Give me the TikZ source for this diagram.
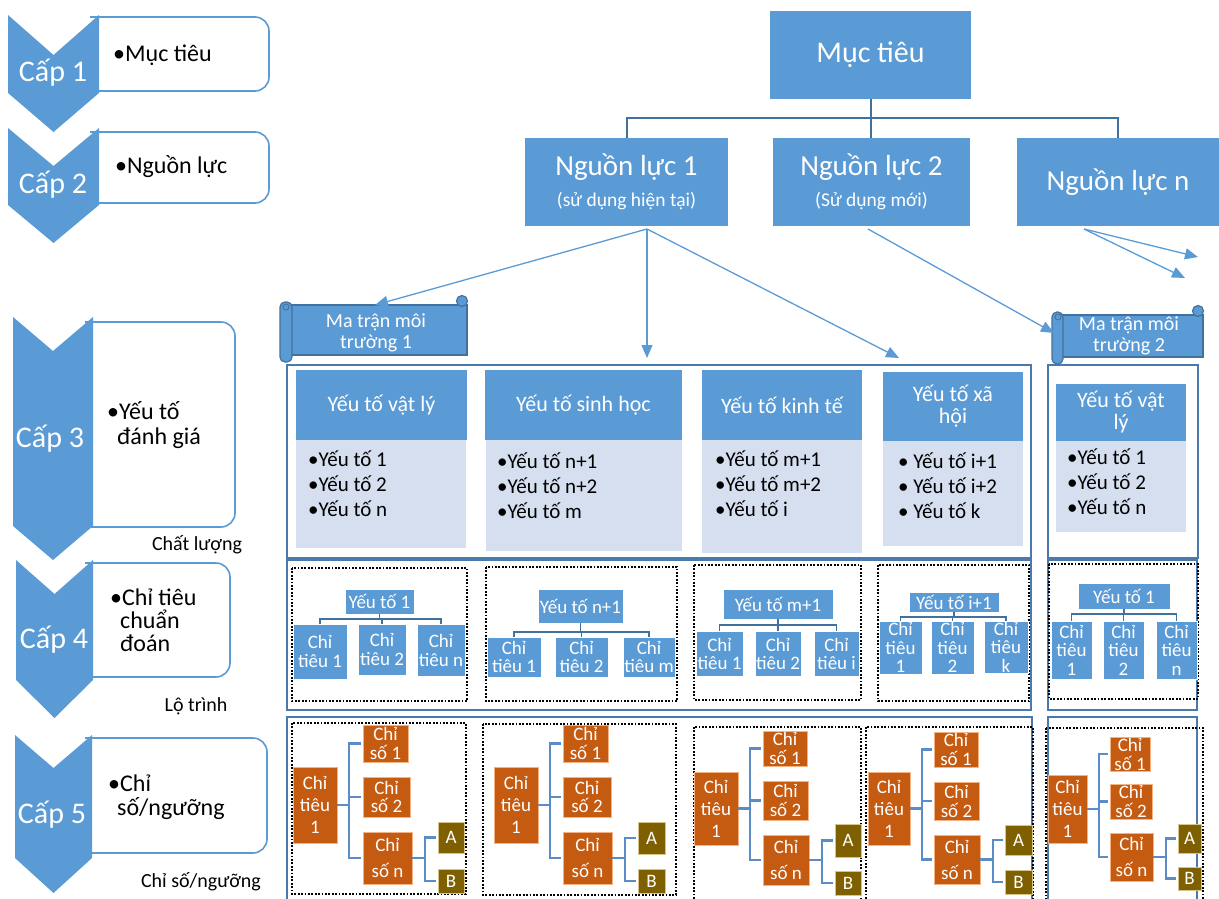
\documentclass[tikz,border=0pt]{standalone}
\usepackage{fontspec}
\setmainfont{Carlito}
\usetikzlibrary{arrows.meta}
\definecolor{cBlue}{HTML}{5B9BD5}
\definecolor{cDark}{HTML}{41719C}
\definecolor{cFrame}{HTML}{4A79AB}
\definecolor{cBody}{HTML}{D5DFEF}
\definecolor{cOrange}{HTML}{C55A11}
\definecolor{cOrangeL}{HTML}{F4B183}
\definecolor{cOlive}{HTML}{7F6000}
\definecolor{cOliveL}{HTML}{D6C48A}
\definecolor{cLink}{HTML}{5A8CC8}
\newcommand\fsz[2]{\fontsize{#1}{#2}\selectfont}
% box node given by its corners (x1,y1)-(x2,y2)
\newcommand\bbox[6]{\node[#2,minimum width={(#5)-(#3)},minimum height={(#6)-(#4)}] (#1) at ({((#3)+(#5))/2},{((#4)+(#6))/2}) {};}
% same box with a centred text node on top
\newcommand\rbox[7]{\bbox{#1}{#2}{#3}{#4}{#5}{#6}\node[#2,fill=none,draw=none] (#1t) at (#1.center) {#7};}
% bulleted list, one node per line
\newcommand\items[4]{\foreach \s [count=\i] in {#4}{\node[item] (#1\i) at (#2,{#3+25*(\i-1)}) {\s};}}
\begin{document}
\begin{tikzpicture}[x=1pt,y=-1pt,
  lvbox/.style={draw=cBlue,line width=1.6pt,fill=white,rounded corners=14pt},
  chev/.style={fill=cBlue},
  tag/.style={text=white,inner sep=0pt,font=\fsz{30}{32}},
  lvtxt/.style={anchor=base west,inner sep=0pt,font=\fsz{24}{25}},
  note/.style={inner sep=0pt,font=\fsz{20}{22}},
  blk/.style={fill=cBlue,text=white,inner sep=0pt,outer sep=0pt,align=center},
  goal/.style={blk,font=\fsz{30}{32}},
  res/.style={blk,font=\fsz{29}{30}},
  resT/.style={text=white,inner sep=0pt,font=\fsz{29}{30}},
  subT/.style={text=white,inner sep=0pt,font=\fsz{19.5}{21}},
  tree/.style={draw=cDark,line width=2pt},
  link/.style={draw=cBlue,line width=1.3pt,-{Triangle[length=13pt,width=11pt]}},
  scroll/.style={fill=cBlue,draw=cDark,line width=1.2pt,inner sep=0pt,outer sep=0pt},
  scrollT/.style={text=white,inner sep=0pt,align=center,font=\fsz{20}{21}},
  frame/.style={draw=cFrame,line width=2pt},
  dots/.style={draw=black,line width=1.8pt,dash pattern=on 1.8pt off 1.6pt},
  hdr3/.style={blk,font=\fsz{22}{22}},
  body3/.style={fill=cBody,inner sep=0pt,outer sep=0pt},
  item/.style={anchor=base west,inner sep=0pt,font=\fsz{21}{22}},
  hdr4/.style={blk,draw=white,line width=0.7pt,font=\fsz{19}{19}},
  kid4/.style={blk,draw=white,line width=0.7pt,font=\fsz{19}{#1}},
  kid4/.default=19,
  brk/.style={draw=cDark,line width=1.5pt},
  kid5/.style={fill=cOrange,draw=cOrangeL,line width=0.7pt,text=white,inner sep=0pt,outer sep=0pt,align=center,font=\fsz{19}{#1}},
  kid5/.default=20,
  leaf5/.style={fill=cOlive,draw=cOliveL,line width=0.7pt,text=white,inner sep=0pt,outer sep=0pt,font=\fsz{19}{20}},
  br5/.style={draw=cLink,line width=2.4pt,shorten >=2pt},
]
\useasboundingbox (0,0) rectangle (1219,899);
\clip (0,0) rectangle (1219,899);

% ---------------- level column ----------------
\draw[lvbox] (90,17) -- (269,17) -- (269,91) -- (90,91);
\fill[chev] (8,15) -- (53.5,55) -- (99,15) -- (99,93) -- (53.5,132) -- (8,93) -- cycle;
\node[tag] (k1) at (53,73) {Cấp 1};
\node[lvtxt] (k1a) at (113,62) {•Mục tiêu};

\draw[lvbox] (90,132) -- (269,132) -- (269,203) -- (90,203);
\fill[chev] (8,128) -- (53.5,166) -- (99,128) -- (99,205) -- (53.5,243) -- (8,205) -- cycle;
\node[tag] (k2) at (53,185) {Cấp 2};
\node[lvtxt] (k2a) at (115,173) {•Nguồn lực};

\draw[lvbox] (85,322) -- (235,322) -- (235,527) -- (85,527);
\fill[chev] (13,317) -- (53,351) -- (93,317) -- (93,526) -- (53,560) -- (13,526) -- cycle;
\node[tag] (k3) at (50,439) {Cấp 3};
\node[lvtxt] (k3a) at (107,419) {•Yếu tố};
\node[lvtxt] (k3b) at (117,444) {đánh giá};
\node[note] (q3) at (197,545) {Chất lượng};

\draw[lvbox] (85,563) -- (230,563) -- (230,677) -- (85,677);
\fill[chev] (16,560) -- (54.5,594) -- (93,560) -- (93,680) -- (54.5,718) -- (16,680) -- cycle;
\node[tag] (k4) at (54,640) {Cấp 4};
\node[lvtxt] (k4a) at (110,605) {•Chỉ tiêu};
\node[lvtxt] (k4b) at (120,628) {chuẩn};
\node[lvtxt] (k4c) at (120,651) {đoán};
\node[note] (q4) at (196,706) {Lộ trình};

\draw[lvbox] (85,738) -- (267,738) -- (267,853) -- (85,853);
\fill[chev] (15,735) -- (53.5,768) -- (92,735) -- (92,858) -- (53.5,893) -- (15,858) -- cycle;
\node[tag] (k5) at (52,815) {Cấp 5};
\node[lvtxt] (k5a) at (108,791) {•Chỉ};
\node[lvtxt] (k5b) at (117,815) {số/ngưỡng};
\node[note] (q5) at (201,882) {Chỉ số/ngưỡng};

% ---------------- goal and resources ----------------
\rbox{mt}{goal}{770}{11}{971}{99}{Mục tiêu}
\bbox{n1}{blk}{525}{138}{728}{226}
\node[resT] (n1a) at (626.5,167) {Nguồn lực 1};
\node[subT] (n1b) at (626.5,201) {(sử dụng hiện tại)};
\bbox{n2}{blk}{773}{138}{970}{226}
\node[resT] (n2a) at (871.5,167) {Nguồn lực 2};
\node[subT] (n2b) at (871.5,201) {(Sử dụng mới)};
\rbox{n3}{res}{1017}{138}{1219}{226}{Nguồn lực n}

\draw[tree] (mt.south) -- ++(0,19) -| (n1.north);
\draw[tree] (mt.south) -- ++(0,19) -| (n3.north);
\draw[tree] (mt.south) -- (mt.south |- n2.north);

% ---------------- environment matrices ----------------
\bbox{ma1}{scroll}{287}{305}{467}{355}
\filldraw[scroll,rounded corners=5pt] (280,302) rectangle (292,362);
\filldraw[scroll] (462,301) circle (5.5pt);
\draw[scroll,fill=none,line width=0.8pt] (286,307) circle (3pt);
\node[scrollT] (ma1t) at (376,333) {Ma trận môi\\trường 1};

\bbox{ma2}{scroll}{1058}{315}{1203}{357}
\filldraw[scroll,rounded corners=5pt] (1052,312) rectangle (1063,364);
\filldraw[scroll] (1198,311) circle (5.5pt);
\draw[scroll,fill=none,line width=0.8pt] (1058,317) circle (3pt);
\node[scrollT] (ma2t) at (1129,336) {Ma trận môi\\trường 2};

\coordinate (n1d) at (647,358);
\coordinate (n1r) at (899,358);
\coordinate (n3a) at (1198,257);
\coordinate (n3b) at (1185,278);
\draw[link] ([xshift=20.5pt,yshift=-3pt]n1.south) -- ([xshift=-2pt]ma1.north);
\draw[link] ([xshift=20.5pt,yshift=-3pt]n1.south) -- (n1d);
\draw[link] ([xshift=20.5pt,yshift=-3pt]n1.south) -- (n1r);
\draw[link] ([xshift=-3.5pt,yshift=-3pt]n2.south) -- ([xshift=-4pt,yshift=3pt]ma2.west);
\draw[link] ([xshift=-34pt,yshift=-3pt]n3.south) -- (n3a);
\draw[link] ([xshift=-34pt,yshift=-3pt]n3.south) -- (n3b);

% ---------------- frames ----------------
\draw[frame] (287,365) rectangle (1031,558);
\draw[frame] (1048,365) rectangle (1198,558);
\draw[frame] (287,560) rectangle (1031,710);
\draw[frame] (1048,560) rectangle (1197,710);
\draw[frame] (287,717) rectangle (1032,910);
\draw[frame] (1048,717) rectangle (1197,910);

% ---------------- level 3: assessment factors ----------------
\rbox{h31}{hdr3}{296}{370}{467}{440}{Yếu tố vật lý}
\bbox{b31}{body3}{296}{440}{466}{548}
\items{i31}{308}{466}{•Yếu tố 1,•Yếu tố 2,•Yếu tố n}

\rbox{h32}{hdr3}{485}{370}{682}{440}{Yếu tố sinh học}
\bbox{b32}{body3}{486}{440}{682}{551}
\items{i32}{497}{468}{•Yếu tố n+1,•Yếu tố n+2,•Yếu tố m}

\rbox{h33}{hdr3}{702}{370}{862}{440}{Yếu tố kinh tế}
\bbox{b33}{body3}{702}{440}{862}{553}
\items{i33}{715}{466}{•Yếu tố m+1,•Yếu tố m+2,•Yếu tố i}

\rbox{h34}{hdr3}{883}{372}{1023}{441}{Yếu tố xã\\hội}
\bbox{b34}{body3}{883}{441}{1023}{546}
\items{i34}{898}{468}{• Yếu tố i+1,• Yếu tố i+2,• Yếu tố k}

\rbox{h35}{hdr3}{1056}{384}{1186}{441}{Yếu tố vật\\lý}
\bbox{b35}{body3}{1056}{441}{1186}{532}
\items{i35}{1067}{464}{•Yếu tố 1,•Yếu tố 2,•Yếu tố n}

% ---------------- level 4: diagnostic criteria ----------------
\draw[dots] (292,568) rectangle (467,701);
\draw[dots] (486,567) rectangle (677,701);
\draw[dots] (694,565) rectangle (861,700);
\draw[dots] (878,565) rectangle (1029,701);
\draw[dots] (1049,564) rectangle (1198,699);

\rbox{h41}{hdr4}{345}{589}{414}{614}{Yếu tố 1}
\rbox{c411}{kid4}{293}{624}{347}{679}{Chỉ\\tiêu 1}
\rbox{c412}{kid4}{358}{624}{406}{675}{Chỉ\\tiêu 2}
\rbox{c413}{kid4}{417}{624}{465}{676}{Chỉ\\tiêu n}

\rbox{h42}{hdr4}{538}{589}{623}{623}{Yếu tố n+1}
\rbox{c421}{kid4=18}{487}{637}{541}{677}{Chỉ\\tiêu 1}
\rbox{c422}{kid4=18}{555}{637}{608}{677}{Chỉ\\tiêu 2}
\rbox{c423}{kid4=18}{623}{637}{675}{677}{Chỉ\\tiêu m}

\rbox{h43}{hdr4}{723}{589}{833}{619}{Yếu tố m+1}
\rbox{c431}{kid4=18}{696}{631}{743}{676}{Chỉ\\tiêu 1}
\rbox{c432}{kid4=18}{755}{631}{801}{676}{Chỉ\\tiêu 2}
\rbox{c433}{kid4=18}{814}{631}{859}{676}{Chỉ\\tiêu i}

\rbox{h44}{hdr4}{909}{592}{999}{612}{Yếu tố i+1}
\rbox{c441}{kid4=18.5}{879}{621}{922}{674}{Chỉ\\tiêu\\1}
\rbox{c442}{kid4=18.5}{931}{621}{974}{674}{Chỉ\\tiêu\\2}
\rbox{c443}{kid4=18.5}{984}{621}{1028}{673}{Chỉ\\tiêu\\k}

\rbox{h45}{hdr4}{1078}{583}{1170}{609}{Yếu tố 1}
\rbox{c451}{kid4=18.5}{1051}{621}{1092}{679}{Chỉ\\tiêu\\1}
\rbox{c452}{kid4=18.5}{1103}{621}{1144}{679}{Chỉ\\tiêu\\2}
\rbox{c453}{kid4=18.5}{1156}{621}{1197}{679}{Chỉ\\tiêu\\n}

\foreach \k/\d in {1/5,2/9,3/6,4/5,5/5}{
  \foreach \j in {1,2,3}{
    \draw[brk] (h4\k.south) -- ++(0,\d) -| (c4\k\j.north);
  }
}

% ---------------- level 5: indicators and thresholds ----------------
\draw[dots] (292,723) rectangle (466,894);
\draw[dots] (483,724) rectangle (676,895);
\draw[dots] (694,727) rectangle (861,910);
\draw[dots] (866,727) rectangle (1033,910);
\draw[dots] (1046,728) rectangle (1203,910);

\rbox{t51}{kid5=22}{293}{767}{337}{843}{Chỉ\\tiêu\\1}
\rbox{a51}{kid5=19}{363}{725}{408}{762}{Chỉ\\số 1}
\rbox{b51}{kid5=18}{363}{777}{410}{817}{Chỉ\\số 2}
\rbox{n51}{kid5=26}{363}{832}{412}{884}{Chỉ\\số n}
\rbox{A51}{leaf5}{438}{822}{464}{853}{A}
\rbox{B51}{leaf5}{438}{869}{464}{893}{B}

\rbox{t52}{kid5=22}{494}{767}{538}{843}{Chỉ\\tiêu\\1}
\rbox{a52}{kid5=19}{563}{725}{608}{762}{Chỉ\\số 1}
\rbox{b52}{kid5=18}{563}{777}{611}{817}{Chỉ\\số 2}
\rbox{n52}{kid5=26}{563}{832}{612}{884}{Chỉ\\số n}
\rbox{A52}{leaf5}{638}{822}{665}{854}{A}
\rbox{B52}{leaf5}{638}{869}{665}{893}{B}

\rbox{t53}{kid5=22}{694}{772}{738}{845}{Chỉ\\tiêu\\1}
\rbox{a53}{kid5=19}{763}{731}{807}{766}{Chỉ\\số 1}
\rbox{b53}{kid5=19}{763}{781}{808}{820}{Chỉ\\số 2}
\rbox{n53}{kid5=26}{763}{835}{809}{885}{Chỉ\\số n}
\rbox{A53}{leaf5}{835}{824}{861}{857}{A}
\rbox{B53}{leaf5}{835}{871}{861}{895}{B}

\rbox{t54}{kid5=22}{868}{772}{910}{845}{Chỉ\\tiêu\\1}
\rbox{a54}{kid5=19}{934}{732}{978}{767}{Chỉ\\số 1}
\rbox{b54}{kid5=19}{934}{782}{979}{820}{Chỉ\\số 2}
\rbox{n54}{kid5=26}{934}{835}{980}{884}{Chỉ\\số n}
\rbox{A54}{leaf5}{1005}{825}{1032}{855}{A}
\rbox{B54}{leaf5}{1005}{870}{1032}{894}{B}

\rbox{t55}{kid5=22}{1048}{775}{1087}{843}{Chỉ\\tiêu\\1}
\rbox{a55}{kid5=19}{1110}{737}{1150}{771}{Chỉ\\số 1}
\rbox{b55}{kid5=19}{1110}{784}{1152}{819}{Chỉ\\số 2}
\rbox{n55}{kid5=26}{1110}{833}{1153}{881}{Chỉ\\số n}
\rbox{A55}{leaf5}{1178}{824}{1201}{853}{A}
\rbox{B55}{leaf5}{1178}{867}{1201}{890}{B}

\foreach \k in {1,...,5}{
  \draw[br5] (t5\k.east) -- ++(12,0) |- (a5\k.west);
  \draw[br5] (t5\k.east) -- ++(12,0) |- (b5\k.west);
  \draw[br5] (t5\k.east) -- ++(12,0) |- (n5\k.west);
  \draw[br5] (n5\k.east) -- ++(13,0) |- (A5\k.west);
  \draw[br5] (n5\k.east) -- ++(13,0) |- (B5\k.west);
}
\end{tikzpicture}
\end{document}
